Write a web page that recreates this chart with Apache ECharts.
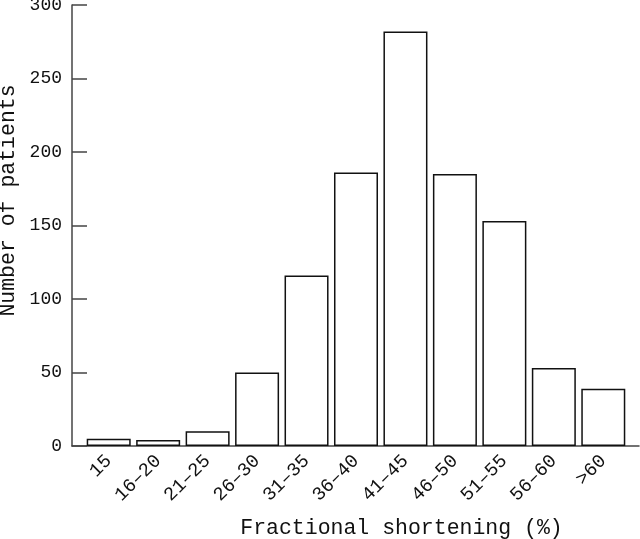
<html>
<head>
<meta charset="utf-8">
<script src="https://cdn.jsdelivr.net/npm/echarts@6/dist/echarts.min.js"></script>
</head>
<body style="margin:0">
<div id="main" style="width:640px;height:539px;"></div>
<script type="text/javascript">
// categories and counts
var categories = ['15', '16\u201320', '21\u201325', '26\u201330', '31\u201335', '36\u201340',
                  '41\u201345', '46\u201350', '51\u201355', '56\u201360', '>60'];
var patients = [5, 4, 10, 50, 116, 186, 282, 185, 153, 53, 39];
var yTicks = [0, 50, 100, 150, 200, 250, 300];

var font = 'Liberation Mono';
var positions = categories.map(function (c, i) { return i; });
var data = patients.map(function (v, i) { return [i, v]; });

var myChart = echarts.init(document.getElementById('main'));
var option = {
    animation: false,
    backgroundColor: '#fff',
    grid: { left: 72, right: 1, top: 5, bottom: 93, outerBoundsMode: 'none', containLabel: false },
    xAxis: {
        type: 'value',
        min: -0.742,
        max: 10.722,
        name: 'Fractional shortening (%)',
        nameLocation: 'middle',
        nameGap: 71,
        nameTextStyle: { fontFamily: font, fontSize: 21.5, color: '#111', padding: [0, 0, 0, 92] },
        axisLine: { show: true, onZero: false, lineStyle: { color: '#444', width: 1.5 } },
        axisTick: { show: false },
        splitLine: { show: false },
        axisLabel: {
            customValues: positions,
            rotate: 45,
            margin: 12,
            fontFamily: font,
            fontSize: 19,
            color: '#111',
            formatter: function (v) { return categories[Math.round(v)]; }
        }
    },
    yAxis: {
        type: 'value',
        min: yTicks[0],
        max: yTicks[yTicks.length - 1],
        interval: 50,
        name: 'Number of patients',
        nameLocation: 'middle',
        nameRotate: 90,
        nameGap: 53,
        nameMoveOverlap: false,
        nameTextStyle: { fontFamily: font, fontSize: 21.5, color: '#111', padding: [0, 0, 0, 50] },
        axisLine: { show: true, onZero: false, lineStyle: { color: '#444', width: 1.5 } },
        axisTick: { show: true, inside: true, length: 15, lineStyle: { color: '#444', width: 1.5 } },
        splitLine: { show: false },
        axisLabel: { fontFamily: font, fontSize: 18, color: '#111', margin: 10 }
    },
    series: [{
        type: 'bar',
        data: data,
        barWidth: 44,
        itemStyle: { color: '#fff', borderColor: '#111', borderWidth: 1.5 }
    }]
};
myChart.setOption(option);
</script>
</body>
</html>
